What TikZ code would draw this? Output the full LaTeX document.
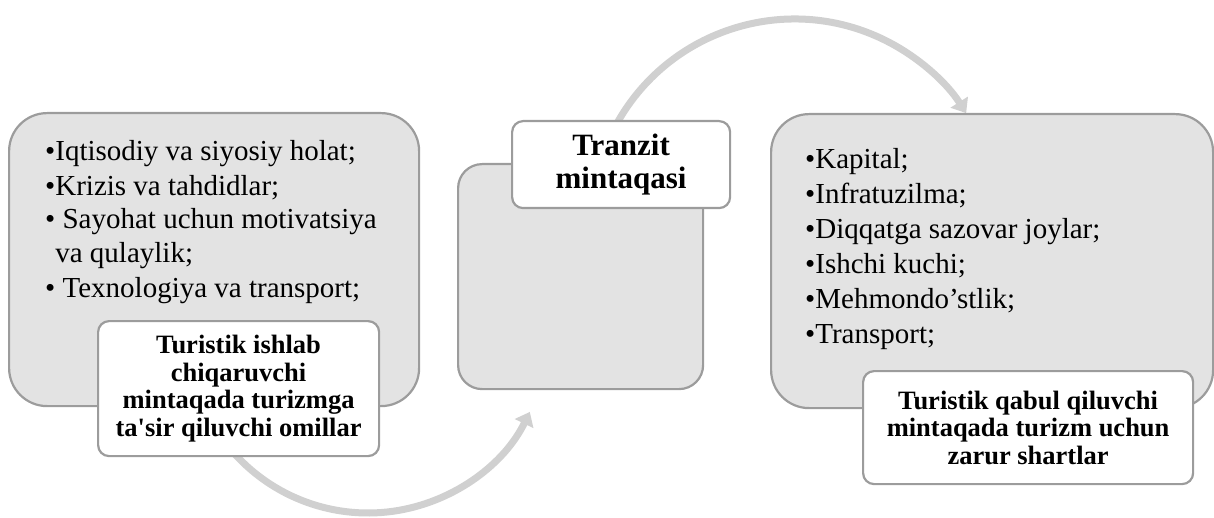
\documentclass[tikz,border=0pt]{standalone}
\usepackage{fontspec}
\setmainfont{Liberation Serif}[Ligatures=TeXOff]
\usetikzlibrary{arrows.meta}
\definecolor{boxfill}{HTML}{E3E3E3}
\definecolor{boxline}{HTML}{9C9C9C}
\definecolor{arcgray}{HTML}{D0D0D0}
\tikzset{
  bigbox/.style={draw=boxline, line width=2.2pt, fill=boxfill, rounded corners=38pt, anchor=north west, inner sep=0pt},
  midbox/.style={bigbox, rounded corners=24pt},
  labelbox/.style={draw=boxline, line width=2.2pt, fill=white, rounded corners=11pt, anchor=north west, inner sep=0pt, align=center, font=\bfseries\fontsize{26.5}{27.4}\selectfont},
  tranzitbox/.style={labelbox, font=\bfseries\fontsize{31}{33}\selectfont},
  listtext/.style={anchor=base west, inner sep=0pt, align=left, font=\fontsize{29}{35}\selectfont},
  cyclearc/.style={draw=arcgray, line width=7pt, -{Triangle[length=13pt,width=20pt]}}
}
\begin{document}
\begin{tikzpicture}[x=1pt,y=-1pt]
\useasboundingbox (0,0) rectangle (1214,518);
% cycle arcs
\coordinate (arcAstart) at ({368+180*cos(140)},{333+180*sin(140)});
\coordinate (arcBstart) at ({794.6+203.4*cos(-152)},{222.4+203.4*sin(-152)});
\draw[cyclearc] (arcAstart) arc[start angle=140, end angle=26, radius=180];
\draw[cyclearc] (arcBstart) arc[start angle=-152, end angle=-32.5, radius=203.4];
% big boxes
\node[bigbox, minimum width=410pt, minimum height=293pt] (lbox) at (8,112) {};
\node[midbox, minimum width=245pt, minimum height=225pt] (mbox) at (457,163) {};
\node[bigbox, minimum width=442pt, minimum height=294pt] (rbox) at (770,113) {};
% lists (base anchor = baseline of last line)
\node[listtext] (ltext) at (45,298) {%
•Iqtisodiy va siyosiy holat;\\
•Krizis va tahdidlar;\\[-2pt]
• Sayohat uchun motivatsiya\\[-1pt]
\phantom{•}va qulaylik;\\
• Texnologiya va transport;};
\node[listtext] (rtext) at (805,343) {%
•Kapital;\\
•Infratuzilma;\\
•Diqqatga sazovar joylar;\\
•Ishchi kuchi;\\
•Mehmondo’stlik;\\
•Transport;};
% labels
\node[labelbox, minimum width=281pt, minimum height=135pt] (llab) at (97,320)
  {Turistik ishlab\\chiqaruvchi\\mintaqada turizmga\\ta'sir qiluvchi omillar};
\node[tranzitbox, minimum width=218pt, minimum height=87pt] (mlab) at (511,120)
  {Tranzit\\mintaqasi};
\node[labelbox, minimum width=330pt, minimum height=113pt] (rlab) at (862,370)
  {Turistik qabul qiluvchi\\mintaqada turizm uchun\\zarur shartlar};
\end{tikzpicture}
\end{document}
